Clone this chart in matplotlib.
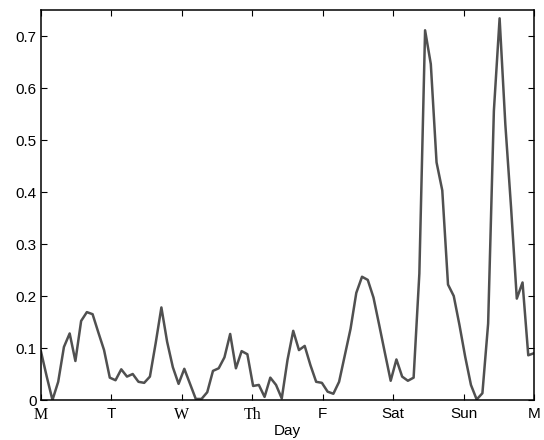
import numpy as np
import matplotlib
matplotlib.use("Agg")
import matplotlib.pyplot as plt

values = [0.093, 0.045, 0.0, 0.035, 0.102, 0.128, 0.075, 0.152, 0.169, 0.165,
          0.130, 0.096, 0.043, 0.038, 0.059, 0.045, 0.050, 0.035, 0.033, 0.045,
          0.109, 0.178, 0.112, 0.063, 0.031, 0.060, 0.031, 0.002, 0.002, 0.015,
          0.056, 0.061, 0.082, 0.127, 0.061, 0.094, 0.088, 0.027, 0.029, 0.006,
          0.043, 0.029, 0.003, 0.077, 0.133, 0.096, 0.104, 0.067, 0.035, 0.033,
          0.016, 0.012, 0.035, 0.086, 0.137, 0.206, 0.237, 0.231, 0.197, 0.144,
          0.090, 0.037, 0.078, 0.045, 0.037, 0.043, 0.243, 0.711, 0.646, 0.457,
          0.403, 0.222, 0.200, 0.144, 0.083, 0.029, 0.001, 0.013, 0.147, 0.556,
          0.734, 0.530, 0.370, 0.195, 0.226, 0.086, 0.090]
days = np.linspace(0, 7, len(values))
day_ticks = [0, 1, 2, 3, 4, 5, 6, 7]
day_labels = ["M", "T", "W", "Th", "F", "Sat", "Sun", "M"]
serif_labels = {0, 2, 3}
y_ticks = [0, 0.1, 0.2, 0.3, 0.4, 0.5, 0.6, 0.7]
y_labels = ["0", "0.1", "0.2", "0.3", "0.4", "0.5", "0.6", "0.7"]

plt.rcParams['font.family'] = ['Liberation Sans', 'DejaVu Sans']
fig = plt.figure(figsize=(5.44, 4.40), dpi=100)
ax = fig.add_axes([41/544, 40/440, 493/544, 390/440])
ax.plot(days, values, color="#505050", linewidth=1.8)
ax.set_xlim(0, 7)
ax.set_ylim(0, 0.75)
ax.set_xticks(day_ticks)
ax.set_xticklabels(day_labels, fontsize=11)
for i, lab in enumerate(ax.get_xticklabels()):
    if i in serif_labels:
        lab.set_family(['Liberation Serif', 'DejaVu Serif'])
        lab.set_fontsize(11.5)
ax.set_yticks(y_ticks)
ax.set_yticklabels(y_labels, fontsize=11)
ax.tick_params(direction="in", length=4, width=0.8, top=True, right=True)
ax.tick_params(axis="x", pad=5)
ax.tick_params(axis="y", pad=3)
for s in ax.spines.values():
    s.set_linewidth(1.1)
ax.set_xlabel("Day", fontsize=11, labelpad=1)
fig.savefig("out.png", dpi=100)
